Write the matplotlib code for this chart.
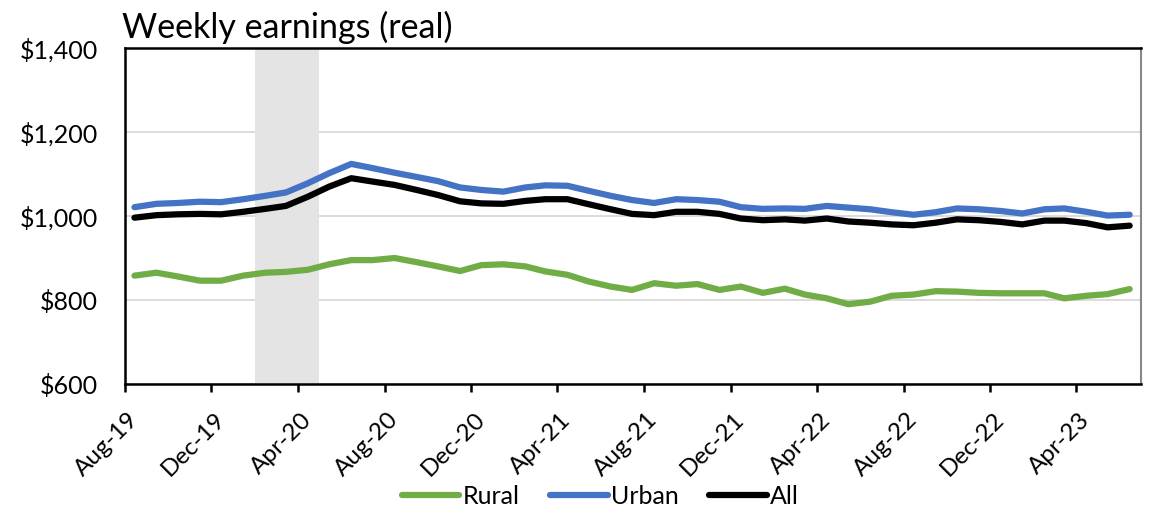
import matplotlib
matplotlib.use("Agg")
import matplotlib.pyplot as plt
import matplotlib.dates as mdates
import matplotlib.ticker as mticker
import matplotlib.transforms as mtransforms
import pandas as pd

# ---- data (monthly, Aug-2019 .. Jun-2023) ----
months = pd.date_range("2019-08-01", "2023-06-01", freq="MS")
rural = [858, 865, 856, 846, 846, 858, 865, 867, 872, 885, 895, 895, 900, 890, 880, 869,
         883, 885, 880, 868, 860, 844, 832, 824, 840, 834, 838, 824, 832, 817, 827,
         813, 804, 790, 796, 810, 813, 821, 820, 817, 816, 816, 816, 804, 810, 814, 826]
urban = [1021, 1029, 1031, 1034, 1033, 1040, 1048, 1056, 1078, 1102, 1124, 1114, 1103, 1093, 1083, 1068,
         1062, 1058, 1068, 1073, 1072, 1060, 1048, 1038, 1031, 1040, 1038, 1034, 1021, 1017, 1018,
         1017, 1024, 1020, 1016, 1009, 1003, 1009, 1018, 1016, 1012, 1006, 1016, 1018, 1010, 1001, 1003]
all_ = [996, 1002, 1004, 1005, 1004, 1010, 1017, 1024, 1046, 1070, 1090, 1082, 1074, 1062, 1050, 1035,
        1030, 1029, 1036, 1040, 1040, 1028, 1016, 1005, 1002, 1010, 1010, 1005, 994, 990, 992,
        989, 994, 987, 984, 980, 978, 984, 992, 990, 986, 980, 989, 989, 983, 973, 977]
series_names = ["Rural", "Urban", "All"]
recession = ("2020-02-01", "2020-05-01")
x_start, x_end = "2019-08-01", "2023-07-01"
tick_months = pd.date_range("2019-08-01", "2023-04-01", freq="4MS")

dates = months + pd.Timedelta(days=14)

plt.rcParams["font.family"] = ["Lato", "DejaVu Sans"]

fig = plt.figure(figsize=(11.55, 5.12), dpi=100)
ax = fig.add_axes([0.1078, 0.25, 0.8801, 0.65625])

ax.axvspan(pd.Timestamp(recession[0]), pd.Timestamp(recession[1]),
           color="#E4E4E4", zorder=1, lw=0)

colors = ["#70AD47", "#4472C4", "#000000"]
for vals, name, c in zip([rural, urban, all_], series_names, colors):
    ax.plot(dates, vals, color=c, lw=4.5, solid_capstyle="round",
            solid_joinstyle="round", label=name, zorder=3)

ax.set_ylim(600, 1400)
ax.set_yticks([600, 800, 1000, 1200, 1400])
ax.yaxis.set_major_formatter(mticker.FuncFormatter(lambda v, p: f"${v:,.0f}"))
ax.grid(axis="y", color="#D9D9D9", lw=1.3, zorder=0)
ax.set_axisbelow(True)

ax.set_xlim(pd.Timestamp(x_start), pd.Timestamp(x_end))
ax.set_xticks(tick_months)
ax.xaxis.set_major_formatter(mdates.DateFormatter("%b-%y"))
ax.tick_params(axis="x", length=6, width=1.8, direction="out", labelsize=17.5, pad=0)
ax.tick_params(axis="y", length=0, labelsize=18, pad=19)
offset = mtransforms.ScaledTranslation(0.10, -0.24, fig.dpi_scale_trans)
for lbl in ax.get_xticklabels():
    lbl.set_rotation(45)
    lbl.set_ha("right")
    lbl.set_va("center")
    lbl.set_rotation_mode("anchor")
    lbl.set_transform(lbl.get_transform() + offset)

for s in ["left", "bottom", "top"]:
    ax.spines[s].set_color("black")
    ax.spines[s].set_linewidth(1.8)
ax.spines["right"].set_color("#888888")
ax.spines["right"].set_linewidth(1.5)

fig.text(0.1056, 0.915, "Weekly earnings (real)", fontsize=24.5, ha="left", va="bottom")

leg = fig.legend(loc="center", bbox_to_anchor=(0.52, 0.03), ncol=3, frameon=False,
                 fontsize=18, handlelength=2.3, handletextpad=0.15, columnspacing=1.2)

fig.savefig("out.png", dpi=100)
